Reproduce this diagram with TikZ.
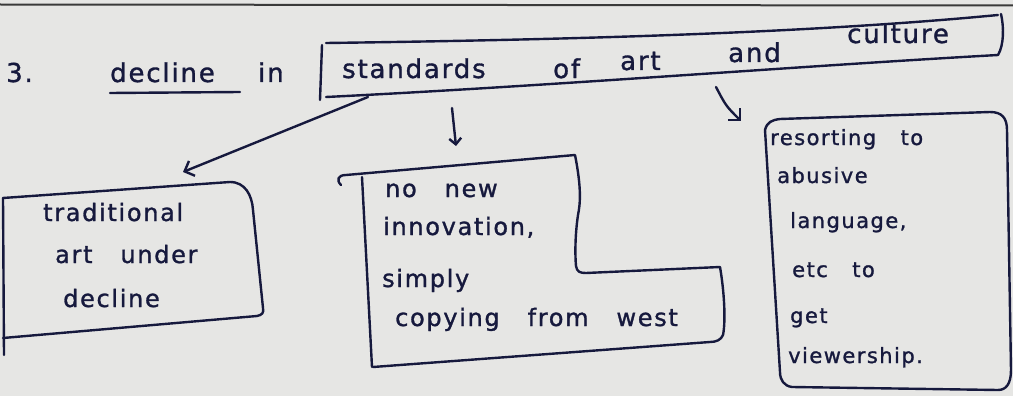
\documentclass[tikz,border=0pt]{standalone}
\usepackage{fontspec}
\setmainfont{DejaVu Sans}[LetterSpace=7,WordSpace=3,FakeBold=1.2]
\usetikzlibrary{arrows.meta}
\definecolor{paper}{HTML}{E6E6E4}
\definecolor{ink}{HTML}{16193D}
\definecolor{edge}{HTML}{3A3A3A}
\begin{document}
\begin{tikzpicture}[x=1pt,y=-1pt,
  pen/.style={draw=ink, line width=2.4pt, line cap=round, line join=round},
  word/.style={text=ink, inner sep=0pt, anchor=base west},
  big/.style={word, font=\fontsize{26}{30}\selectfont},
  mid/.style={word, font=\fontsize{24}{28}\selectfont},
  small/.style={word, font=\fontsize{21}{25}\selectfont},
  barb/.style={-{Straight Barb[length=8pt,width=16pt]}},
  shortbarb/.style={-{Straight Barb[length=6pt,width=12pt]}}]

% sheet of paper
\useasboundingbox (0,0) rectangle (1013,396);
\fill[paper] (0,0) rectangle (1013,396);
\draw[edge, line width=2pt] (0,4.5) -- (1013,5.5);

% heading
\node[big] (num) at (6,82) {3.};
\node[big] (decl) at (110,82) {decline};
\node[big] (in) at (258,82) {in};
\draw[pen] (110,93) -- (240,92);

% main box: standards of art and culture
\draw[pen] (322,45) -- (320,100);
\draw[pen] (326,43) .. controls (550,40) and (800,34) .. (998,15);
\draw[pen] (1001,14) .. controls (1004,27) and (1004,45) .. (998,55);
\draw[pen] (326,97) .. controls (550,86) and (800,66) .. (998,55);
\node[big] (w1) at (342,78) {standards};
\node[big] (w2) at (553,78) {of};
\node[big] (w3) at (620,70) {art};
\node[big] (w4) at (728,62) {and};
\node[big] (w5) at (847,43) {culture};

% left box
\draw[pen] (3,198) -- (230,182) .. controls (245,182) and (252,195) .. (253,210)
  -- (263,308) .. controls (264,313) and (262,315) .. (257,316) -- (3,338);
\draw[pen] (3,198) -- (4,355);
\node[mid] (l1) at (43,221) {traditional};
\node[mid] (l2) at (55,263) {art under};
\node[mid] (l3) at (63,307) {decline};

% middle box
\draw[pen] (341,185) .. controls (336,180) and (338,175) .. (346,175) -- (575,155)
  .. controls (582,190) and (580,205) .. (578,215)
  .. controls (575,235) and (575,255) .. (576,266)
  .. controls (577,272) and (580,273) .. (586,273) -- (720,267)
  .. controls (724,290) and (726,320) .. (723,335)
  .. controls (721,340) and (716,342) .. (710,342) -- (373,367);
\draw[pen] (362,177) -- (372,367);
\node[mid] (m1) at (385,197) {no new};
\node[mid] (m2) at (383,235) {innovation,};
\node[mid] (m3) at (382,287) {simply};
\node[mid] (m4) at (395,326) {copying from west};

% right box
\draw[pen] (765,130) .. controls (767,122) and (772,120) .. (780,119) -- (990,112)
  .. controls (1002,112) and (1007,118) .. (1007,130) -- (1011,370)
  .. controls (1011,384) and (1006,390) .. (998,390) -- (792,387)
  .. controls (784,386) and (780,380) .. (780,372) -- cycle;
\node[small] (r1) at (770,145) {resorting to};
\node[small] (r2) at (777,183) {abusive};
\node[small] (r3) at (790,228) {language,};
\node[small] (r4) at (792,277) {etc to};
\node[small] (r5) at (790,323) {get};
\node[small] (r6) at (788,363) {viewership.};

% connectors
\coordinate (main-sw) at (368,97);
\coordinate (left-n) at (183,172);
\coordinate (main-s) at (452,108);
\coordinate (mid-n) at (456,146);
\coordinate (main-se) at (716,87);
\coordinate (right-nw) at (741,121);
\draw[pen, barb] (main-sw) -- (left-n);
\draw[pen, shortbarb] (main-s) -- (mid-n);
\draw[pen, barb] (main-se) .. controls (726,106) .. (right-nw);
\end{tikzpicture}
\end{document}
